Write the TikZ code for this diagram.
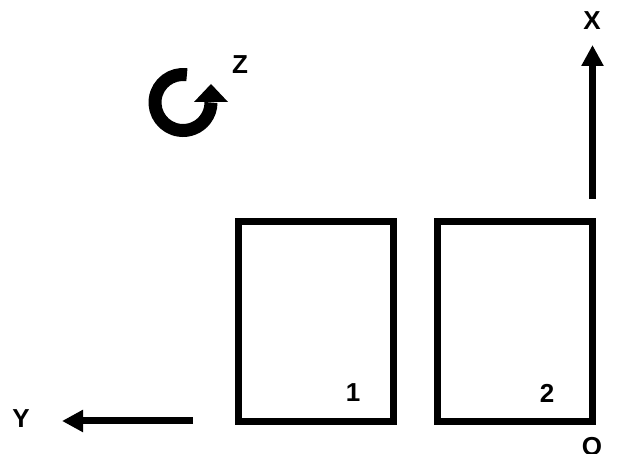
\documentclass[tikz,border=0pt]{standalone}
\usepackage{fontspec}
\setmainfont{Liberation Sans}
\usetikzlibrary{arrows.meta}
\begin{document}
\begin{tikzpicture}[x=1pt,y=1pt,
  lbl/.style={inner sep=0pt,font=\fontsize{26}{30}\selectfont\bfseries},
  boxnode/.style={draw,line width=7pt,minimum width=155pt,minimum height=200pt,inner sep=0pt,outer sep=0pt},
  axis/.style={line width=7pt,-{Triangle[length=21pt,width=21pt]}}]
\useasboundingbox (0,0) rectangle (624,454);
% boxes
\node[boxnode] (b1) at (316,132.5) {};
\node[boxnode] (b2) at (515,132.5) {};
\node[lbl] (n1) at (353,61) {1};
\node[lbl] (n2) at (547,61) {2};
% axes
\coordinate (xs) at (592.5,255);
\coordinate (xe) at (592.5,409);
\coordinate (ys) at (193,33);
\coordinate (ye) at (62,33);
\draw[axis] (xs) -- (xe);
\draw[axis] (ys) -- (ye);
\node[lbl] (X) at (592,433) {X};
\node[lbl] (Y) at (21,35) {Y};
\node[lbl] (O) at (592,7) {O};
% rotation
\coordinate (rc) at (183,351.5);
\draw[line width=13pt] ([shift={(82:28)}]rc) arc[start angle=82,end angle=360,radius=28];
\fill (194,352) -- (228,352) -- (211,370) -- cycle;
\node[lbl] (Z) at (240,389) {Z};
\end{tikzpicture}
\end{document}
